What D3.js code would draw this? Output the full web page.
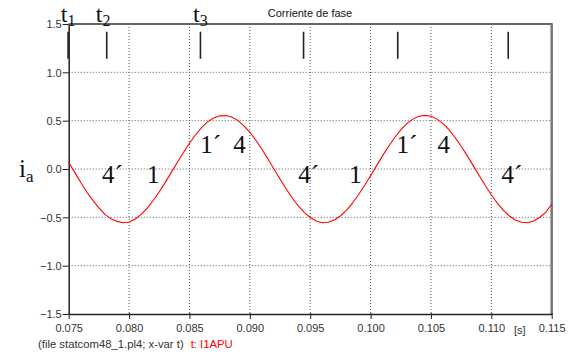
<!DOCTYPE html>
<html>
<head>
<meta charset="utf-8">
<script src="https://cdn.jsdelivr.net/npm/d3@7"></script>
<style>
  html, body { margin: 0; padding: 0; background: #fff; }
  svg { display: block; }
</style>
</head>
<body>
<svg id="chart" width="581" height="354"></svg>
<script>
// Phase current i_a (pu) sampled every 0.5 ms from 0.075 s to 0.115 s
const tStart = 0.075;
const tStep = 0.0005;
const currentValues = [
   0.068, -0.035, -0.140, -0.238, -0.325, -0.402, -0.470, -0.516, -0.542, -0.556,
  -0.548, -0.520, -0.470, -0.405, -0.326, -0.236, -0.138, -0.035,  0.070,  0.171,
   0.267,  0.352,  0.428,  0.488,  0.528,  0.550,  0.554,  0.538,  0.503,  0.449,
   0.380,  0.297,  0.204,  0.104,  0.000, -0.104, -0.204, -0.297, -0.380, -0.449,
  -0.502, -0.538, -0.556, -0.551, -0.528, -0.486, -0.428, -0.354, -0.267, -0.171,
  -0.070,  0.035,  0.138,  0.236,  0.326,  0.405,  0.469,  0.516,  0.545,  0.555,
   0.545,  0.516,  0.469,  0.405,  0.326,  0.236,  0.138,  0.035, -0.070, -0.171,
  -0.267, -0.354, -0.428, -0.486, -0.528, -0.551, -0.556, -0.538, -0.502, -0.449,
  -0.365
];

const xTicks = [0.075, 0.080, 0.085, 0.090, 0.095, 0.100, 0.105, 0.110, 0.115];
const yTicks = [-1.5, -1.0, -0.5, 0.0, 0.5, 1.0, 1.5];

// Switching instants marked along the top of the plot
const markerTimes = [0.07495, 0.07815, 0.08591, 0.09445, 0.10225, 0.1114];
const markerTop = 1.42;
const markerBottom = 1.14;

// Instant labels t1..t3
const instantNames = ["t", "t", "t"];
const instantSubs = ["1", "2", "3"];
const instantTimes = [0.07495, 0.07785, 0.0859];

// Conduction-state annotations
const stateTexts = ["4\u00B4", "1", "1\u00B4", "4", "4\u00B4", "1", "1\u00B4", "4", "4\u00B4"];
const stateTimes = [0.07776, 0.08149, 0.08589, 0.08862, 0.09401, 0.09824, 0.10214, 0.10554, 0.11085];
const stateValues = [-0.145, -0.145, 0.165, 0.165, -0.145, -0.145, 0.165, 0.165, -0.145];

const svg = d3.select("#chart");
const plotLeft = 68.7, plotRight = 551.7, plotTop = 24, plotBottom = 314;

const x = d3.scaleLinear().domain([0.075, 0.115]).range([plotLeft, plotRight]);
const y = d3.scaleLinear().domain([-1.5, 1.5]).range([plotBottom, plotTop]);

const data = currentValues.map((v, i) => ({ t: tStart + i * tStep, v }));

// Dotted grid
svg.append("g")
  .selectAll("line")
  .data(xTicks.slice(1, -1))
  .join("line")
  .attr("x1", d => x(d)).attr("x2", d => x(d))
  .attr("y1", plotTop).attr("y2", plotBottom)
  .attr("stroke", "#555").attr("stroke-width", 1)
  .attr("stroke-dasharray", "1,2");
svg.append("g")
  .selectAll("line")
  .data(yTicks.slice(1, -1))
  .join("line")
  .attr("x1", plotLeft).attr("x2", plotRight)
  .attr("y1", d => y(d)).attr("y2", d => y(d))
  .attr("stroke", "#555").attr("stroke-width", 1)
  .attr("stroke-dasharray", "1,2");

// Frame: top and right edges
svg.append("line").attr("x1", plotLeft).attr("x2", plotRight + 1).attr("y1", plotTop).attr("y2", plotTop)
  .attr("stroke", "#666").attr("stroke-width", 2);
svg.append("line").attr("x1", plotRight).attr("x2", plotRight).attr("y1", plotTop).attr("y2", plotBottom)
  .attr("stroke", "#777").attr("stroke-width", 2.5);

// Axes
const xAxis = d3.axisBottom(x).tickValues(xTicks).tickFormat(d3.format(".3f")).tickSize(5).tickSizeOuter(0);
const yAxis = d3.axisLeft(y).tickValues(yTicks).tickFormat(d3.format(".1f")).tickSize(6).tickSizeOuter(0);

const gx = svg.append("g").attr("transform", `translate(0,${plotBottom})`).call(xAxis);
const gy = svg.append("g").attr("transform", `translate(${plotLeft},0)`).call(yAxis);
[gx, gy].forEach(g => {
  g.select(".domain").attr("stroke", "#222").attr("stroke-width", 1.5);
  g.selectAll(".tick line").attr("stroke", "#222");
  g.selectAll(".tick text")
    .attr("font-family", "Liberation Sans, Arial, sans-serif")
    .attr("font-size", 11).attr("fill", "#333");
});
gx.selectAll(".tick line").attr("y1", -1);
gx.selectAll(".tick text").attr("dy", "0.95em");
gy.selectAll(".tick text").attr("x", -7).attr("dy", "0.35em");

// Current trace
const line = d3.line().x(d => x(d.t)).y(d => y(d.v));
svg.append("path").datum(data)
  .attr("d", line)
  .attr("fill", "none").attr("stroke", "#f00").attr("stroke-width", 1.1);

// Switching markers
svg.append("g").selectAll("line")
  .data(markerTimes)
  .join("line")
  .attr("x1", d => x(d)).attr("x2", d => x(d))
  .attr("y1", y(markerTop)).attr("y2", y(markerBottom))
  .attr("stroke", "#222").attr("stroke-width", 1.6);

// t1..t3 labels
const serif = "Liberation Serif, Times New Roman, serif";
instantNames.forEach((n, i) => {
  const txt = svg.append("text")
    .attr("x", x(instantTimes[i])).attr("y", 21.5)
    .attr("text-anchor", "middle")
    .attr("font-family", serif).attr("font-size", 24).attr("fill", "#111");
  txt.append("tspan").text(n);
  txt.append("tspan").attr("font-size", 16).attr("dy", 4).text(instantSubs[i]);
});

// State annotations
svg.append("g").selectAll("text")
  .data(stateTexts)
  .join("text")
  .attr("x", (d, i) => x(stateTimes[i]))
  .attr("y", (d, i) => y(stateValues[i]))
  .attr("font-family", serif).attr("font-size", 25).attr("fill", "#111")
  .text(d => d);

// Y variable label i_a
const ia = svg.append("text").attr("x", 19).attr("y", 177)
  .attr("font-family", serif).attr("font-size", 25).attr("fill", "#111");
ia.append("tspan").text("i");
ia.append("tspan").attr("font-size", 17).attr("dy", 5).text("a");

// Title
svg.append("text").attr("x", 310).attr("y", 17).attr("text-anchor", "middle")
  .attr("font-family", "Liberation Sans, Arial, sans-serif").attr("font-size", 11).attr("fill", "#111")
  .text("Corriente de fase");

// Unit label
svg.append("text").attr("x", 514).attr("y", 334)
  .attr("font-family", "Liberation Sans, Arial, sans-serif").attr("font-size", 11).attr("fill", "#333")
  .text("[s]");

// Footer
const foot = svg.append("text").attr("x", 38).attr("y", 348)
  .attr("font-family", "Liberation Sans, Arial, sans-serif").attr("font-size", 11.3).attr("fill", "#333");
foot.append("tspan").text("(file statcom48_1.pl4; x-var t)");
foot.append("tspan").attr("fill", "#f00").attr("dx", 7).text("t: I1APU");
</script>
</body>
</html>
